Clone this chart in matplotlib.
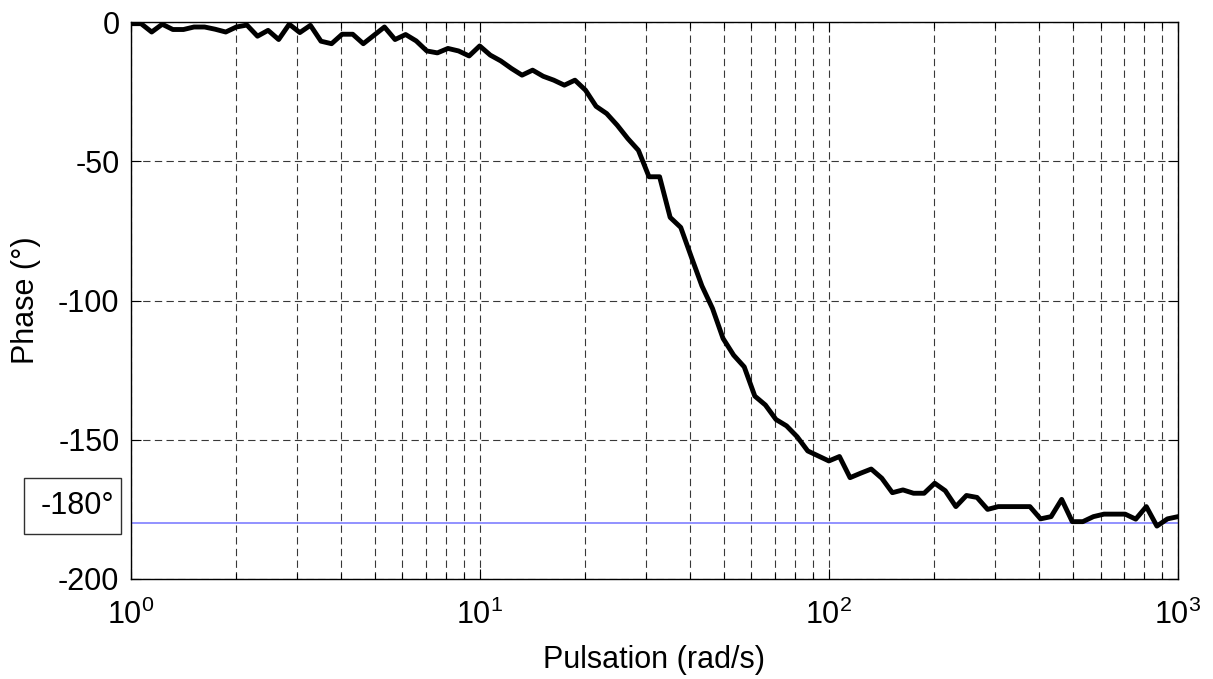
import numpy as np
import matplotlib
matplotlib.use("Agg")
import matplotlib.pyplot as plt
from matplotlib.patches import Rectangle

plt.rcParams['font.family'] = ['Liberation Sans', 'DejaVu Sans']
plt.rcParams['mathtext.fontset'] = 'custom'
plt.rcParams['mathtext.rm'] = 'Liberation Sans'
plt.rcParams['mathtext.it'] = 'Liberation Sans'
plt.rcParams['mathtext.default'] = 'regular'
plt.rcParams['axes.unicode_minus'] = False

# frequency grid (rad/s), 100 points log spaced from 1 to 1000
w = np.logspace(0, 3, 100)

# phase (degrees)
phase = [
    -0.5, -0.5, -3.5, -0.7, -2.6, -2.6, -1.7, -1.7, -2.5, -3.5,
    -1.7, -1.0, -5.0, -2.9, -6.2, -0.7, -3.7, -1.1, -6.8, -7.7,
    -4.3, -4.3, -7.7, -4.7, -1.7, -6.2, -4.4, -6.7, -10.3, -11.0,
    -9.4, -10.3, -12.1, -8.5, -11.8, -13.9, -16.6, -19.0, -17.2, -19.4,
    -20.8, -22.6, -20.8, -24.4, -30.2, -32.8, -37.0, -41.8, -46.0, -55.5,
    -55.5, -70.1, -73.7, -84.3, -94.7, -102.8, -113.6, -119.6, -123.8, -134.3,
    -137.5, -142.7, -145.0, -148.9, -154.0, -155.8, -157.6, -156.0, -163.6, -162.0,
    -160.5, -163.8, -169.0, -168.0, -169.2, -169.2, -165.6, -168.3, -174.0, -170.0,
    -170.7, -175.0, -174.0, -174.0, -174.0, -174.0, -178.4, -177.6, -171.4, -179.4,
    -179.4, -177.6, -176.7, -176.7, -176.7, -178.5, -174.0, -181.0, -178.4, -177.6,
]
ref_level = -180
yticks = [-200, -150, -100, -50, 0]

fig = plt.figure(figsize=(12.13, 6.79), dpi=100)
ax = fig.add_axes([0.1076, 0.1473, 0.8636, 0.8199])

ax.semilogx(w, phase, color='black', linewidth=3.5, zorder=3)
ax.axhline(ref_level, color='#7f7fff', linewidth=1.2, zorder=2)

ax.set_xlim(1, 1000)
ax.set_ylim(-200, 0)
ax.set_yticks(yticks)

dash = (0, (6.6, 3.9))
ax.grid(True, which='major', axis='both', linestyle=dash, color='#383838', linewidth=0.8)
ax.grid(True, which='minor', axis='x', linestyle=dash, color='#383838', linewidth=0.8)

ax.tick_params(which='both', direction='in', top=True, right=True, labelsize=22, width=0.8)
ax.tick_params(axis='x', which='major', length=7, pad=15)
ax.tick_params(axis='x', which='minor', length=4)
ax.tick_params(axis='y', which='major', length=7, pad=8)
for s in ax.spines.values():
    s.set_linewidth(1.0)

ax.set_xlabel("Pulsation (rad/s)", fontsize=22, labelpad=10)
ax.set_ylabel("Phase (°)", fontsize=22, labelpad=12)

# boxed annotation of the -180 level, left of the axes
fig.patches.append(Rectangle((23.5 / 1213, 1 - 534 / 679), 97.5 / 1213, 56 / 679,
                             transform=fig.transFigure, fill=False,
                             edgecolor='#303030', linewidth=1.0))
fig.text(114 / 1213, 1 - 506 / 679, "-180°", fontsize=22, ha='right', va='center')

fig.savefig("out.png", dpi=100)
